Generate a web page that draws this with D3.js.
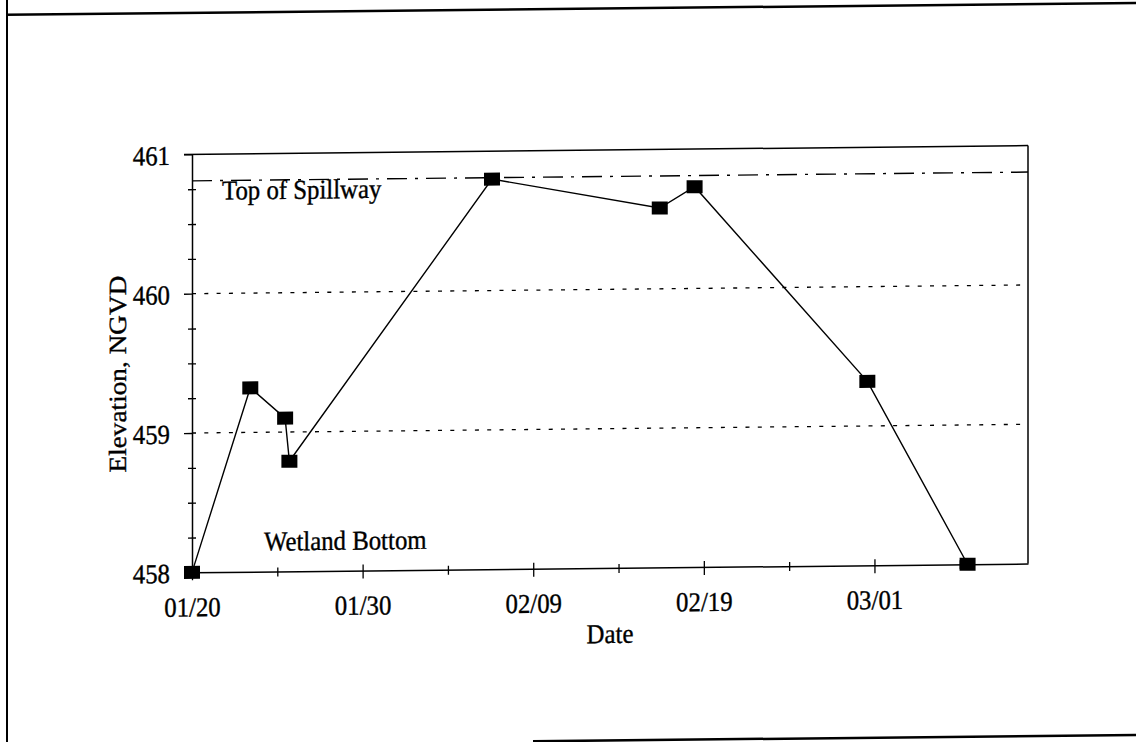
<!DOCTYPE html>
<html><head><meta charset="utf-8">
<script src="https://cdn.jsdelivr.net/npm/d3@7"></script>
<style>html,body{margin:0;padding:0;background:#fff;} svg{display:block;}</style>
</head><body>
<svg id="chart" width="1136" height="742"></svg>
<script>
// ---- data ----
const dates = ["1995-01-20T00:00","1995-01-23T10:00","1995-01-25T11:00","1995-01-25T17:00","1995-02-06T14:00","1995-02-16T10:00","1995-02-18T11:00","1995-02-28T14:00","1995-03-06T11:00"];
const elevations = [458.00, 459.32, 459.10, 458.79, 460.80, 460.58, 460.73, 459.32, 458.00];
const xTickLabels = ["01/20","01/30","02/09","02/19","03/01"];
const xDomain = ["1995-01-20T00:00","1995-03-10T00:00"];
const yDomain = [458, 461];
const yTickLabels = [458, 459, 460, 461];
const gridValues = [459, 460];
const spillwayElevation = 460.81;
const annotations = ["Top of Spillway", "Wetland Bottom"];
const xTitle = "Date";
const yTitle = "Elevation, NGVD";

// ---- setup ----
const parseT = d3.timeParse("%Y-%m-%dT%H:%M");
const parseTick = s => d3.timeParse("%m/%d/%Y")(s + "/1995");
const points = dates.map((d, i) => ({date: parseT(d), value: elevations[i]}));
const FONT = "'Liberation Serif','Times New Roman',serif";
const FS = 24.8, SY = 1.1, TSW = 0.35;

const L = 192, R = 1028, T = 150, B = 568;
const x = d3.scaleTime().domain(xDomain.map(parseT)).range([L, R]);
const y = d3.scaleLinear().domain(yDomain).range([B, T]);

const svg = d3.select("#chart");
svg.append("rect").attr("width", 1136).attr("height", 742).attr("fill", "#fff");
const ang = 0.6, k = Math.tan(ang * Math.PI / 180);
const g = svg.append("g").attr("transform", `translate(0,${k * 608}) skewY(${-ang})`);

// outer page frame (scan)
g.append("line").attr("x1", 7).attr("x2", 7).attr("y1", -10).attr("y2", 760).attr("stroke", "#000").attr("stroke-width", 2);
g.append("line").attr("x1", 6).attr("x2", 1150).attr("y1", 8.5).attr("y2", 8.5).attr("stroke", "#000").attr("stroke-width", 2.5);
g.append("line").attr("x1", 533).attr("x2", 1150).attr("y1", 740.5).attr("y2", 740.5).attr("stroke", "#000").attr("stroke-width", 2.5);

// gridlines
g.selectAll("line.grid").data(gridValues).join("line").attr("class", "grid")
  .attr("x1", L).attr("x2", R).attr("y1", d => y(d)).attr("y2", d => y(d))
  .attr("stroke", "#000").attr("stroke-width", 1.3).attr("stroke-dasharray", "4,8.3");

// spillway line
g.append("line").attr("x1", L).attr("x2", R).attr("y1", y(spillwayElevation)).attr("y2", y(spillwayElevation))
  .attr("stroke", "#000").attr("stroke-width", 1.4).attr("stroke-dasharray", "20,8,3,8");

// plot frame (top & right)
g.append("line").attr("x1", L - 8).attr("x2", R).attr("y1", y(yDomain[1])).attr("y2", y(yDomain[1])).attr("stroke", "#000").attr("stroke-width", 1.5);
g.append("line").attr("x1", R).attr("x2", R).attr("y1", y(yDomain[1])).attr("y2", y(yDomain[0])).attr("stroke", "#000").attr("stroke-width", 1.5);

// x axis
const majorX = xTickLabels.map(parseTick);
const minorX = d3.range(0, 10).map(i => d3.timeDay.offset(x.domain()[0], i * 5)).filter((d, i) => i % 2 === 1);
const gxMinor = g.append("g").attr("transform", `translate(0,${B})`)
  .call(d3.axisBottom(x).tickValues(minorX).tickSize(5).tickSizeOuter(0).tickFormat(""));
gxMinor.select(".domain").remove();
gxMinor.selectAll(".tick line").attr("y1", -4).attr("stroke-width", 1.3);
const gx = g.append("g").attr("transform", `translate(0,${B})`)
  .call(d3.axisBottom(x).tickValues(majorX).tickSize(8).tickSizeOuter(0).tickFormat(d3.timeFormat("%m/%d")));
gx.select(".domain").attr("stroke-width", 1.5);
gx.selectAll(".tick line").attr("y1", -6).attr("stroke-width", 1.3);
gx.selectAll(".tick text").attr("y", 40).attr("dy", 0).attr("transform", `scale(1,${SY})`)
  .attr("font-family", FONT).attr("font-size", FS).attr("fill", "#000").attr("stroke", "#000").attr("stroke-width", TSW);

// y axis
const minorY = d3.range(458, 461.01, 0.25).filter(v => Math.abs(v - Math.round(v)) > 0.01);
const gyMinor = g.append("g").attr("transform", `translate(${L},0)`)
  .call(d3.axisLeft(y).tickValues(minorY).tickSize(4).tickSizeOuter(0).tickFormat(""));
gyMinor.select(".domain").remove();
gyMinor.selectAll(".tick line").attr("x1", 4).attr("stroke-width", 1.3);
const gy = g.append("g").attr("transform", `translate(${L},0)`)
  .call(d3.axisLeft(y).tickValues(yTickLabels).tickSize(8).tickSizeOuter(0).tickFormat(d3.format("d")));
gy.select(".domain").attr("stroke-width", 1.5);
gy.selectAll(".tick line").attr("stroke-width", 1.3);
gy.selectAll(".tick text").attr("x", -22).attr("dy", 0).attr("y", 9).attr("transform", `scale(1,${SY})`)
  .attr("font-family", FONT).attr("font-size", FS).attr("fill", "#000").attr("stroke", "#000").attr("stroke-width", TSW);
svg.selectAll(".domain, .tick line").attr("stroke", "#000");

// data line
g.append("path").datum(points)
  .attr("d", d3.line().x(d => x(d.date)).y(d => y(d.value)))
  .attr("fill", "none").attr("stroke", "#000").attr("stroke-width", 1.4);
g.selectAll("rect.mk").data(points).join("rect").attr("class", "mk")
  .attr("x", d => x(d.date) - 8).attr("y", d => y(d.value) - 6.5)
  .attr("width", 16).attr("height", 13).attr("fill", "#000");

// annotations
function label(txt, px, py, anchor) {
  g.append("text").attr("transform", `translate(${px},${py}) scale(1,${SY})`)
    .attr("text-anchor", anchor).attr("font-family", FONT).attr("font-size", FS).attr("fill", "#000")
    .attr("stroke", "#000").attr("stroke-width", TSW).text(txt);
}
label(annotations[0], x.range()[0] + 30, y(spillwayElevation) + 19, "start");
label(annotations[1], x.range()[0] + 72, y(yDomain[0]) - 21, "start");
label(xTitle, 610, 643, "middle");
g.append("text").attr("transform", `translate(126,369) rotate(-90) scale(${SY},1)`)
  .attr("text-anchor", "middle").attr("font-family", FONT).attr("font-size", FS).attr("fill", "#000")
  .attr("stroke", "#000").attr("stroke-width", TSW).text(yTitle);
</script>
</body></html>
